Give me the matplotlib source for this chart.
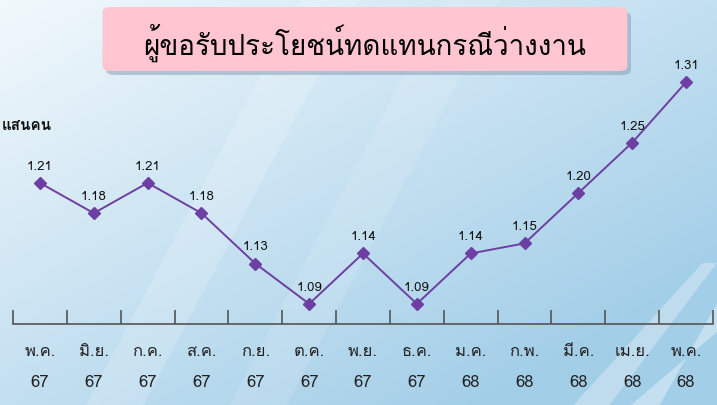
import numpy as np
import matplotlib
matplotlib.use("Agg")
import matplotlib.pyplot as plt
from matplotlib import font_manager
from matplotlib.ft2font import FT2Font
from matplotlib.patches import FancyBboxPatch, Polygon

months = ["พ.ค.", "มิ.ย.", "ก.ค.", "ส.ค.", "ก.ย.", "ต.ค.", "พ.ย.",
          "ธ.ค.", "ม.ค.", "ก.พ.", "มี.ค.", "เม.ย.", "พ.ค."]
years = ["67", "67", "67", "67", "67", "67", "67", "67", "68", "68", "68", "68", "68"]
claimants = [1.21, 1.18, 1.21, 1.18, 1.13, 1.09, 1.14, 1.09, 1.14, 1.15, 1.20, 1.25, 1.31]

title = "ผู้ขอรับประโยชน์ทดแทนกรณีว่างงาน"
unit = "แสนคน"


def thai_family():
    # find an installed font that actually has Thai glyphs
    names = []
    for f in font_manager.fontManager.ttflist:
        try:
            if 0x0E01 in FT2Font(f.fname).get_charmap():
                names.append(f.name)
        except Exception:
            pass
    fams = []
    for n in names:
        if n not in fams:
            fams.append(n)
    return fams + ["DejaVu Sans"]


plt.rcParams['font.family'] = thai_family()

fig = plt.figure(figsize=(7.17, 4.06), dpi=100)

# background gradient
bg = fig.add_axes([0, 0, 1, 1], zorder=0)
gx, gy = np.meshgrid(np.linspace(0, 1, 300), np.linspace(0, 1, 200))
t = np.clip(0.6 * gx + 0.6 * gy, 0, 1)
c0 = np.array([0.95, 0.975, 0.99])
c1 = np.array([0.64, 0.81, 0.91])
img = c0 + (c1 - c0) * t[..., None]
bg.imshow(img, extent=[0, 1, 0, 1], aspect='auto', origin='upper')
for pts, a in [([(0.42, 1.0), (0.50, 1.0), (0.20, 0.0), (0.12, 0.0)], 0.18),
               ([(0.62, 1.0), (0.70, 1.0), (0.40, 0.0), (0.32, 0.0)], 0.12),
               ([(0.98, 0.35), (1.0, 0.35), (0.85, 0.0), (0.80, 0.0)], 0.30),
               ([(1.0, 0.18), (1.0, 0.25), (0.92, 0.0), (0.88, 0.0)], 0.35)]:
    bg.add_patch(Polygon(pts, closed=True, facecolor='white', alpha=a, edgecolor='none'))
bg.set_xlim(0, 1)
bg.set_ylim(0, 1)
bg.axis('off')

# title box with shadow
shadow = FancyBboxPatch((0.148, 1 - 76 / 406), 0.732, 63 / 406,
                        boxstyle="round,pad=0,rounding_size=0.012",
                        transform=fig.transFigure, facecolor='#8FA7BD', alpha=0.6,
                        edgecolor='none', zorder=1)
box = FancyBboxPatch((0.143, 1 - 72 / 406), 0.732, 64 / 406,
                     boxstyle="round,pad=0,rounding_size=0.012",
                     transform=fig.transFigure, facecolor='#FFC6D2',
                     edgecolor='none', zorder=2)
fig.patches.extend([shadow, box])
fig.text(0.509, 1 - 43 / 406, title, ha='center', va='center', fontsize=20,
         color='black', zorder=3)

fig.text(0.002, 1 - 126 / 406, unit, ha='left', va='center', fontsize=11,
         fontweight='bold', color='#111111')

ax = fig.add_axes([13 / 717, 1 - 325 / 406, 700 / 717, 262 / 406], zorder=2)
ax.patch.set_alpha(0)
x = np.arange(len(claimants))
ax.plot(x, claimants, color='#6E3FA3', lw=1.4, marker='D', ms=6.5,
        markerfacecolor='#6E3FA3', markeredgecolor='#6E3FA3')
for xi, v in zip(x, claimants):
    ax.annotate(f"{v:.2f}", (xi, v), xytext=(0, 8), textcoords='offset points',
                ha='center', va='bottom', fontsize=9.5, color='#111111')

ax.set_xlim(-0.5, len(claimants) - 0.5)
ax.set_ylim(1.07, 1.33)
for s in ['top', 'right', 'left']:
    ax.spines[s].set_visible(False)
ax.spines['bottom'].set_color('#555555')
ax.spines['bottom'].set_linewidth(1.2)
ax.set_yticks([])
ax.set_xticks(np.arange(-0.5, len(claimants), 1.0))
ax.set_xticklabels([])
ax.set_xticks(x, minor=True)
ax.set_xticklabels([f"{m}\n{y}" for m, y in zip(months, years)], minor=True,
                   fontsize=12, color='#222222', linespacing=2.2)
ax.tick_params(axis='x', which='major', direction='in', length=10, width=1.2,
               color='#555555')
ax.tick_params(axis='x', which='minor', length=0, pad=14)

fig.savefig("out.png", dpi=100)
